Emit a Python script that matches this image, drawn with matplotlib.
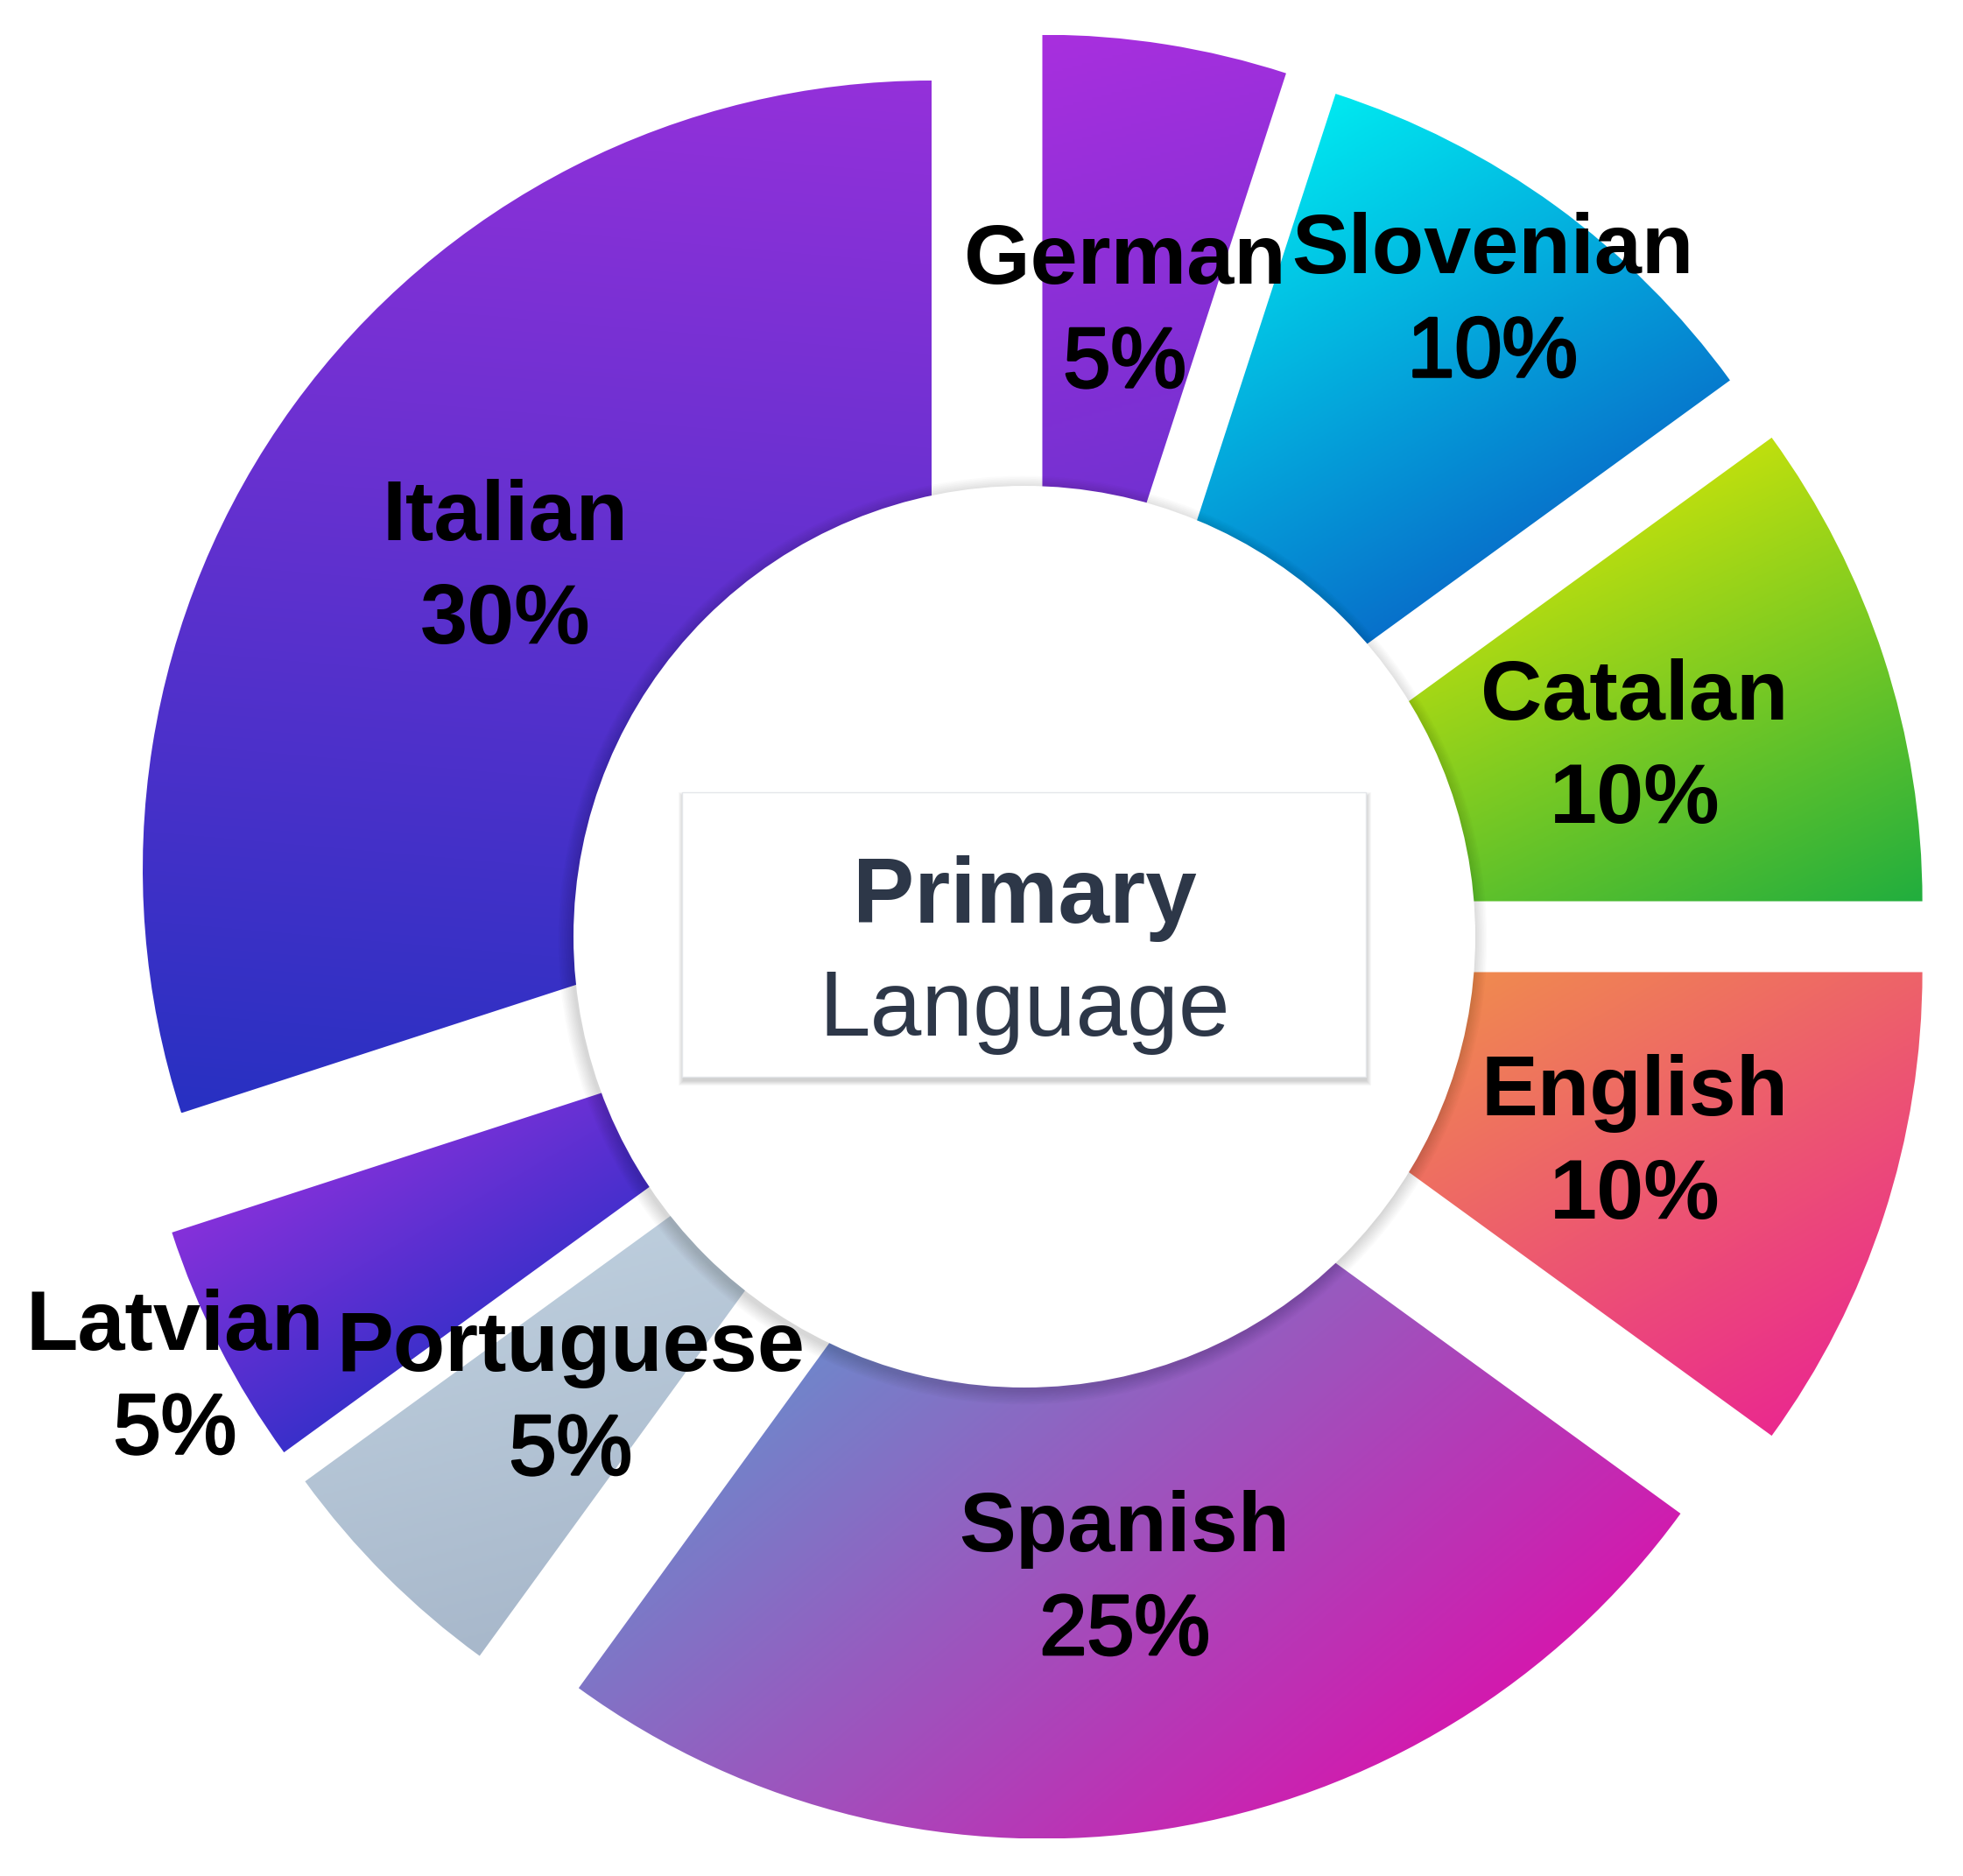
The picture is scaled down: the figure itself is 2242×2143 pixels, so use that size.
import numpy as np
import matplotlib
matplotlib.use("Agg")
import matplotlib.pyplot as plt
import matplotlib.patheffects as pe
from matplotlib.colors import LinearSegmentedColormap
from matplotlib.patches import Circle, Rectangle

# slices, clockwise from 12 o'clock
languages = ["German", "Slovenian", "Catalan", "English",
             "Spanish", "Portuguese", "Latvian", "Italian"]
shares = [5, 10, 10, 10, 25, 5, 5, 30]

# gradient end colours for every slice (start -> end)
top_colors = ["#a82fde", "#00e8f0", "#bedf0e", "#f2a83c",
              "#6592ce", "#c3d4e2", "#8531da", "#9431da"]
bottom_colors = ["#5331c9", "#0868c8", "#22ae3e", "#ea2a8e",
                 "#d21aae", "#a8b8cb", "#3a2fca", "#2830c2"]
# gradient direction, degrees away from straight down (towards the right)
grad_angle = [15, 30, 25, 30, 40, 15, 30, -5]

# where the label sits along the slice bisector (fraction of radius)
label_dist = [0.668, 0.864, 0.668, 0.668, 0.668, 0.668, 1.063, 0.668]
# the percentages of some slices are drawn heavier than others
pct_heavy = [False, False, True, True, False, False, False, True]

center_title = "Primary"
center_sub = "Language"

R = 901          # outer radius (pixels)
EXPLODE = 131    # pull-out of every slice
R_HOLE = 515     # white centre disc

plt.rcParams['font.family'] = ['Liberation Sans', 'DejaVu Sans']

fig = plt.figure(figsize=(22.42, 21.43), dpi=100)
ax = fig.add_axes([0, 0, 1, 1])

wedges, _ = ax.pie(shares, radius=R, startangle=90, counterclock=False,
                   explode=[EXPLODE] * len(shares),
                   wedgeprops=dict(linewidth=0))

# gradient fill: an image clipped by each wedge
for w, c0, c1, ang in zip(wedges, top_colors, bottom_colors, grad_angle):
    w.set_facecolor("none")
    bb = w.get_path().get_extents()
    xs = np.linspace(bb.x0, bb.x1, 300)
    ys = np.linspace(bb.y0, bb.y1, 300)
    X, Y = np.meshgrid(xs, ys)
    a = np.deg2rad(ang)
    proj = X * np.sin(a) - Y * np.cos(a)
    # normalise over the part of the box the wedge covers
    inside = w.get_path().contains_points(np.c_[X.ravel(), Y.ravel()]).reshape(X.shape)
    lo, hi = proj[inside].min(), proj[inside].max()
    grad = np.clip((proj - lo) / (hi - lo), 0, 1)
    cmap = LinearSegmentedColormap.from_list("g", [c0, c1])
    im = ax.imshow(grad, cmap=cmap, origin="lower", aspect="auto",
                   extent=[bb.x0, bb.x1, bb.y0, bb.y1],
                   interpolation="bilinear", zorder=1)
    im.set_clip_path(w)

# soft shadow + white disc in the middle
for k in range(10):
    ax.add_patch(Circle((-2, -4), R_HOLE + 1 + k * 1.6, color="black",
                        alpha=0.016, lw=0, zorder=2))
ax.add_patch(Circle((0, 0), R_HOLE, color="white", lw=0, zorder=3))

# centre card
bx, by, bw, bh = -391, -160, 781, 325
for k in range(6):
    ax.add_patch(Rectangle((bx - k + 1, by - 5 - k), bw + 2 * k, bh + 2 * k,
                           color="black", alpha=0.03, lw=0, zorder=4))
ax.add_patch(Rectangle((bx, by), bw, bh, facecolor="white",
                       edgecolor="#e4e6ea", lw=1, zorder=5))
ax.text(0, 16, center_title, ha="center", va="baseline", fontsize=76,
        fontweight="bold", color="#2d3748", zorder=6)
ax.text(0, -113, center_sub, ha="center", va="baseline", fontsize=76,
        color="#2d3748", zorder=6)

# slice labels
medium = [pe.withStroke(linewidth=2.2, foreground="black")]
for w, name, share, ld, heavy in zip(wedges, languages, shares, label_dist, pct_heavy):
    th = np.deg2rad((w.theta1 + w.theta2) / 2)
    lx = w.center[0] + ld * R * np.cos(th)
    ly = w.center[1] + ld * R * np.sin(th)
    ax.text(lx, ly + 22, name, ha="center", va="baseline", fontsize=70,
            fontweight="bold", color="black", zorder=7)
    if heavy:
        ax.text(lx, ly - 96, f"{share}%", ha="center", va="baseline", fontsize=70,
                fontweight="bold", color="black", zorder=7)
    else:
        ax.text(lx, ly - 96, f"{share}%", ha="center", va="baseline", fontsize=70,
                color="black", path_effects=medium, zorder=7)

ax.set_xlim(-1170, 1072)
ax.set_ylim(-1073, 1070)
ax.set_aspect("equal")
ax.axis("off")

fig.savefig("out.png", dpi=100)
